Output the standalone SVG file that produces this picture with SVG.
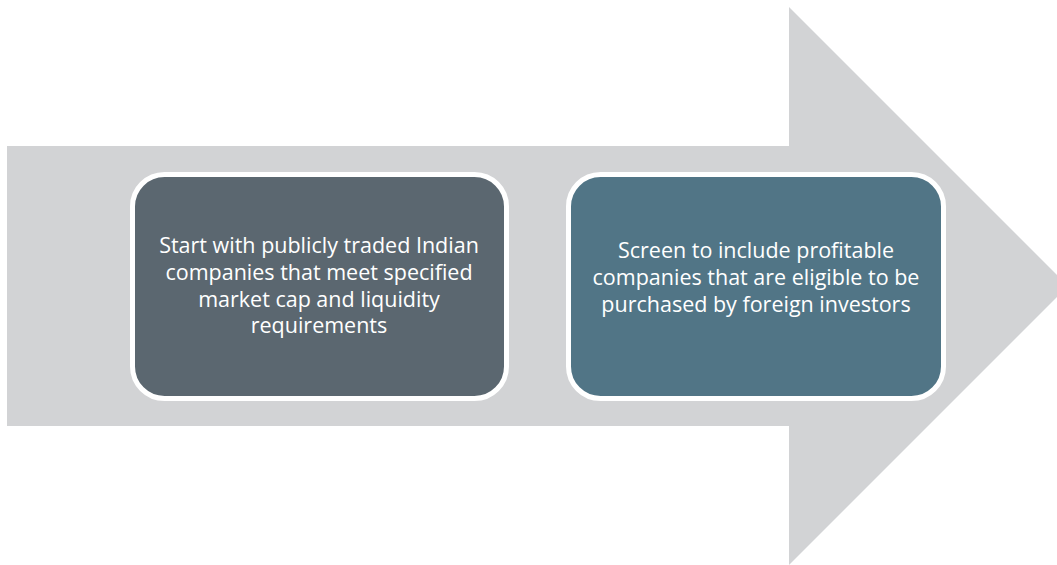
<svg xmlns="http://www.w3.org/2000/svg" width="1057" height="565" viewBox="0 0 1057 565">
<style>
.box{stroke:#FFFFFF;stroke-width:5}
.lbl{font-family:"Source Sans Pro","Open Sans","Liberation Sans",sans-serif;font-size:21.5px;fill:#FFFFFF;text-anchor:middle}
</style>
<rect width="1057" height="565" fill="#FFFFFF"/>
<g id="connectors">
<polygon points="7,146 789,146 789,7 1068,286 789,565 789,426 7,426" fill="#D2D3D5"/>
</g>
<g id="node1">
<rect class="box" x="132.5" y="174.5" width="374" height="224" rx="32" fill="#5B6770"/>
<text class="lbl" x="319" y="253">Start with publicly traded Indian</text>
<text class="lbl" x="319" y="280">companies that meet specified</text>
<text class="lbl" x="319" y="306.5">market cap and liquidity</text>
<text class="lbl" x="319" y="333">requirements</text>
</g>
<g id="node2">
<rect class="box" x="568.5" y="174.5" width="375" height="224" rx="32" fill="#517586"/>
<text class="lbl" x="756" y="258">Screen to include profitable</text>
<text class="lbl" x="756" y="285">companies that are eligible to be</text>
<text class="lbl" x="756" y="311.5">purchased by foreign investors</text>
</g>
</svg>
